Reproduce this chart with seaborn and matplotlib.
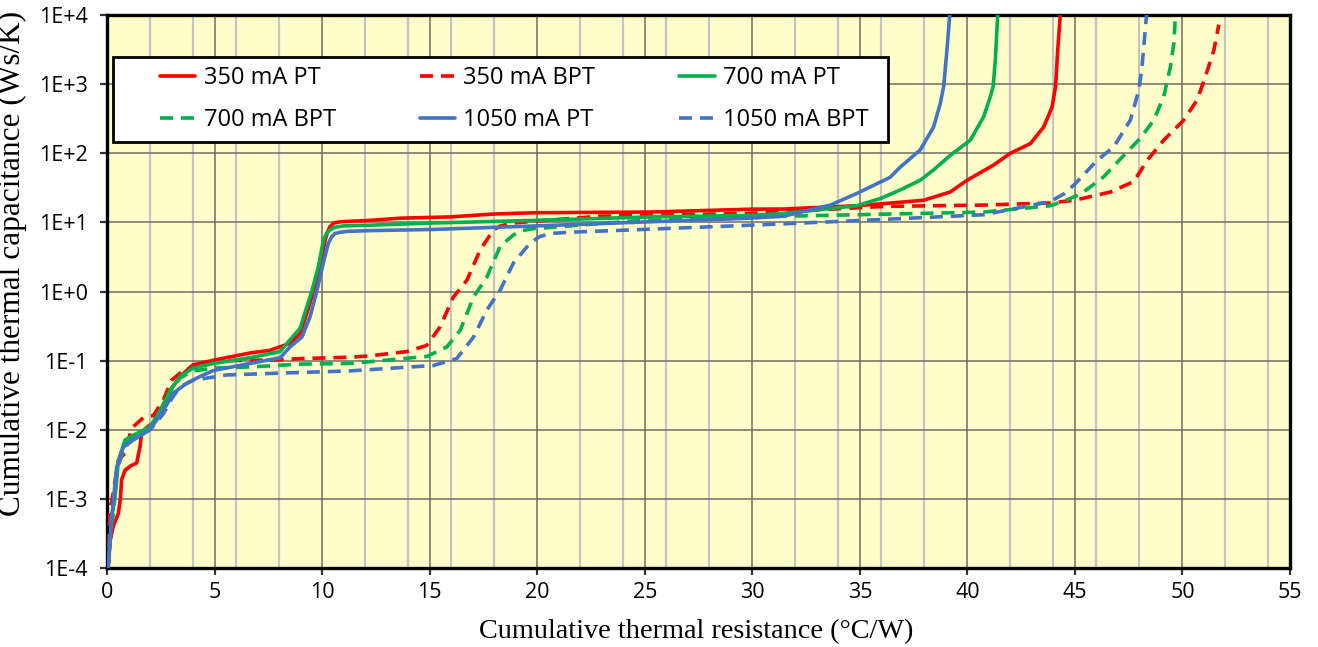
import numpy as np
import pandas as pd
import matplotlib
matplotlib.use("Agg")
import matplotlib.pyplot as plt
from matplotlib.ticker import MultipleLocator, FixedLocator, FuncFormatter, NullLocator
from matplotlib.lines import Line2D
from matplotlib.patches import Rectangle
import seaborn as sns

# ---------------- data ----------------
series_names = ["350 mA PT", "350 mA BPT", "700 mA PT", "700 mA BPT", "1050 mA PT", "1050 mA BPT"]

x_350_pt = [0.05, 0.15, 0.29, 0.53, 0.62, 0.68, 0.84, 1.10, 1.38, 1.53, 1.61, 1.80, 2.20, 2.60, 3.00,
            3.50, 4.00, 5.00, 6.65, 7.58, 8.51, 8.98, 9.29, 9.60, 9.91, 10.14, 10.25, 10.37, 10.55,
            10.84, 12.23, 13.63, 15.95, 17.97, 19.98, 25.26, 29.9, 31.46, 34.87, 36.5, 37.97, 39.2,
            39.99, 41.22, 42.0, 42.93, 43.55, 43.94, 44.1, 44.2, 44.32]
y_350_pt = [1.0e-4, 2.5e-4, 4.0e-4, 6.2e-4, 1.0e-3, 1.9e-3, 2.6e-3, 3.0e-3, 3.3e-3, 5.6e-3, 8.9e-3,
            1.05e-2, 1.3e-2, 2.1e-2, 0.040, 0.063, 0.087, 0.102, 0.129, 0.141, 0.178, 0.245, 0.48,
            1.0, 2.3, 5.5, 7.2, 8.7, 9.8, 10.2, 10.7, 11.5, 12.0, 13.2, 13.8, 14.1, 15.5, 15.6,
            17.4, 19.1, 20.9, 27.5, 40.7, 67.6, 100.0, 138.0, 240.0, 468.0, 933.0, 3090.0, 10000.0]

x_350_bpt = [0.05, 0.14, 0.22, 0.53, 0.84, 1.14, 1.69, 2.15, 2.62, 3.00, 3.55, 4.33, 5.5, 7.7, 8.98,
             11.3, 12.2, 13.94, 14.87, 15.49, 16.1, 16.73, 17.35, 17.97, 18.3, 18.9, 22.9, 29.9,
             36.1, 40.76, 43.86, 45.02, 46.65, 47.74, 48.36, 49.13, 50.06, 50.68, 51.07, 51.46,
             51.69]
y_350_bpt = [1.0e-4, 7.6e-4, 9.1e-4, 3.6e-3, 4.6e-3, 1.05e-2, 1.5e-2, 1.6e-2, 0.027, 0.052, 0.072,
             0.091, 0.100, 0.102, 0.107, 0.112, 0.117, 0.135, 0.166, 0.31, 0.83, 1.45, 4.0, 7.8,
             8.9, 9.8, 12.3, 13.5, 17.0, 17.8, 19.1, 21.0, 27.5, 39.0, 79.0, 155.0, 302.0, 589.0,
             1290.0, 3090.0, 7240.0]

x_700_pt = [0.05, 0.22, 0.40, 0.53, 0.84, 1.22, 2.00, 2.47, 2.93, 3.40, 4.00, 4.95, 6.65, 8.05,
            8.51, 8.98, 9.29, 9.52, 9.83, 10.06, 10.2, 10.37, 10.6, 10.99, 12.23, 15.17, 19.98,
            25.26, 29.9, 31.46, 34.87, 36.0, 36.88, 37.81, 38.43, 39.2, 40.14, 40.76, 41.07, 41.2,
            41.3, 41.41]
y_700_pt = [1.0e-4, 5.4e-4, 1.26e-3, 3.6e-3, 7.1e-3, 8.3e-3, 1.1e-2, 1.9e-2, 0.037, 0.059, 0.078,
            0.091, 0.110, 0.135, 0.20, 0.295, 0.60, 1.0, 2.3, 5.5, 6.9, 7.8, 8.5, 8.9, 9.1, 9.8,
            10.7, 12.0, 12.6, 13.5, 17.4, 22.4, 29.5, 40.7, 57.5, 93.0, 155.0, 339.0, 661.0, 933.0,
            2240.0, 10000.0]

x_700_bpt = [0.05, 0.15, 0.30, 0.50, 0.80, 1.30, 2.00, 2.47, 2.93, 3.40, 4.00, 5.00, 6.65, 8.98,
             11.3, 14.87, 15.8, 16.42, 17.04, 17.66, 18.28, 18.9, 19.3, 19.84, 24.5, 29.9, 34.87,
             40.76, 43.86, 44.6, 45.3, 46.34, 47.27, 48.05, 48.67, 49.13, 49.44, 49.6, 49.67]
y_700_bpt = [1.0e-4, 3.2e-4, 6.3e-4, 3.2e-3, 6.3e-3, 8.3e-3, 1.1e-2, 1.8e-2, 0.035, 0.056, 0.071,
             0.078, 0.081, 0.089, 0.091, 0.115, 0.158, 0.275, 0.83, 1.62, 4.5, 6.6, 7.6, 8.1,
             10.5, 12.0, 12.9, 14.1, 17.4, 21.0, 26.0, 45.7, 93.0, 166.0, 302.0, 661.0, 1780.0,
             3890.0, 10000.0]

x_1050_pt = [0.05, 0.22, 0.45, 0.76, 1.22, 2.00, 2.62, 3.09, 3.71, 4.33, 4.95, 6.65, 8.05, 8.51,
             9.06, 9.44, 9.75, 10.06, 10.29, 10.45, 10.6, 10.85, 11.15, 12.23, 15.17, 19.98, 25.26,
             29.9, 31.46, 33.63, 34.87, 35.8, 36.4, 36.88, 37.81, 38.43, 38.74, 38.9, 39.05, 39.18]
y_1050_pt = [1.0e-4, 5.4e-4, 2.9e-3, 5.6e-3, 7.1e-3, 1.0e-2, 1.9e-2, 0.034, 0.047, 0.059, 0.072,
             0.091, 0.110, 0.158, 0.219, 0.43, 1.0, 2.6, 5.0, 6.2, 6.9, 7.2, 7.4, 7.6, 7.9, 8.9,
             10.2, 11.5, 12.3, 17.8, 26.3, 36.3, 44.7, 63.0, 112.0, 240.0, 525.0, 933.0, 3090.0,
             10000.0]

x_1050_bpt = [0.05, 0.20, 0.45, 0.80, 1.30, 2.00, 2.62, 3.00, 3.40, 4.00, 5.56, 8.05, 11.3, 15.17,
              16.26, 17.04, 17.66, 18.28, 18.9, 19.67, 20.1, 20.6, 21.5, 24.5, 29.9, 34.6, 40.76,
              43.86, 44.5, 45.02, 46.03, 46.8, 47.58, 47.97, 48.12, 48.23, 48.33]
y_1050_bpt = [1.0e-4, 5.0e-4, 2.5e-3, 5.6e-3, 7.6e-3, 1.0e-2, 1.7e-2, 0.028, 0.042, 0.052, 0.062,
              0.066, 0.071, 0.085, 0.107, 0.219, 0.54, 1.05, 2.6, 5.0, 6.2, 6.9, 7.2, 7.8, 9.1,
              10.5, 12.9, 20.0, 26.0, 36.3, 79.0, 123.0, 302.0, 813.0, 1780.0, 4370.0, 10000.0]

x_ticks = [0, 5, 10, 15, 20, 25, 30, 35, 40, 45, 50, 55]
y_ticks = [1e-4, 1e-3, 1e-2, 1e-1, 1e0, 1e1, 1e2, 1e3, 1e4]

x_label = "Cumulative thermal resistance (°C/W)"
y_label = "Cumulative thermal capacitance (Ws/K)"

# ---------------- styles ----------------
RED, GREEN, BLUE = "#FF0000", "#00B050", "#4472C4"
palette = {"350 mA PT": RED, "350 mA BPT": RED, "700 mA PT": GREEN,
           "700 mA BPT": GREEN, "1050 mA PT": BLUE, "1050 mA BPT": BLUE}
DASH = (3.6, 2.2)
dashes = {n: (DASH if n.endswith("BPT") else "") for n in series_names}

xs = [x_350_pt, x_350_bpt, x_700_pt, x_700_bpt, x_1050_pt, x_1050_bpt]
ys = [y_350_pt, y_350_bpt, y_700_pt, y_700_bpt, y_1050_pt, y_1050_bpt]
frames = []
for n, xv, yv in zip(series_names, xs, ys):
    frames.append(pd.DataFrame({"x": xv, "y": yv, "series": n}))
df = pd.concat(frames, ignore_index=True)

sns.set_style("ticks")
fig = plt.figure(figsize=(13.18, 6.47), dpi=100)
ax = fig.add_axes([107 / 1318, 1 - 568 / 647, 1183 / 1318, 553 / 647])
ax.set_facecolor("#FFFFCC")

LW = 2.6
sns.lineplot(data=df, x="x", y="y", hue="series", style="series", hue_order=series_names,
             style_order=series_names, palette=palette, dashes=dashes, sort=False,
             estimator=None, units="series", linewidth=LW, legend=False, ax=ax, zorder=3)
for ln in ax.get_lines():
    ln.set_solid_capstyle("round")
    ln.set_solid_joinstyle("round")
    ln.set_dash_capstyle("butt")

ax.set_yscale("log")
ax.set_xlim(0, 55)
ax.set_ylim(1e-4, 1e4)

ax.xaxis.set_major_locator(FixedLocator(x_ticks))
ax.xaxis.set_minor_locator(MultipleLocator(2))
ax.yaxis.set_major_locator(FixedLocator(y_ticks))
ax.yaxis.set_minor_locator(NullLocator())
ax.yaxis.set_major_formatter(FuncFormatter(lambda v, p: "1E{:+d}".format(int(round(np.log10(v))))))

ax.grid(which="minor", axis="x", color="#C4C4C4", linewidth=1.6, zorder=0)
ax.grid(which="major", axis="both", color="#6E6E64", linewidth=1.1, zorder=0)
ax.set_axisbelow(True)

for s in ax.spines.values():
    s.set_visible(True)
    s.set_color("black")
    s.set_linewidth(2.4)

tick_font = "Open Sans"
ax.tick_params(axis="both", which="major", direction="out", length=5, width=1.6,
               color="#333333", labelsize=15.5, labelcolor="black")
ax.tick_params(axis="x", which="major", pad=5)
ax.tick_params(axis="y", which="major", pad=9)
ax.tick_params(which="minor", length=0)
for lab in ax.get_xticklabels() + ax.get_yticklabels():
    lab.set_fontfamily(tick_font)

ax.set_xlabel(x_label, fontsize=20.3, family="Liberation Serif", color="black")
ax.set_ylabel(y_label, fontsize=22.5, family="Liberation Serif", color="black")
ax.xaxis.set_label_coords(0.5 + (696 - 698.5) / 1183, -0.092)
ax.yaxis.set_label_coords(-0.068, 0.55)

# legend frame
ax.add_patch(Rectangle((6 / 1183, (568 - 142) / 553), (888 - 113) / 1183, 85 / 553,
                       transform=ax.transAxes, facecolor="white", edgecolor="black",
                       linewidth=2.0, zorder=4))
handles = {n: Line2D([], [], color=palette[n], linewidth=LW,
                     linestyle=(0, DASH) if n.endswith("BPT") else "-") for n in series_names}
order = ["350 mA PT", "700 mA BPT", "350 mA BPT", "1050 mA PT", "700 mA PT", "1050 mA BPT"]
leg = ax.legend([handles[n] for n in order], order, loc="upper left",
                bbox_to_anchor=((160 - 107) / 1183, (568 - 66) / 553), ncol=3, frameon=False,
                borderpad=0, borderaxespad=0, handlelength=1.5, handletextpad=0.35,
                columnspacing=3.55, labelspacing=0.78, labelcolor="black",
                prop={"family": tick_font, "size": 17})
leg.set_zorder(5)

fig.savefig("out.png", dpi=100)
